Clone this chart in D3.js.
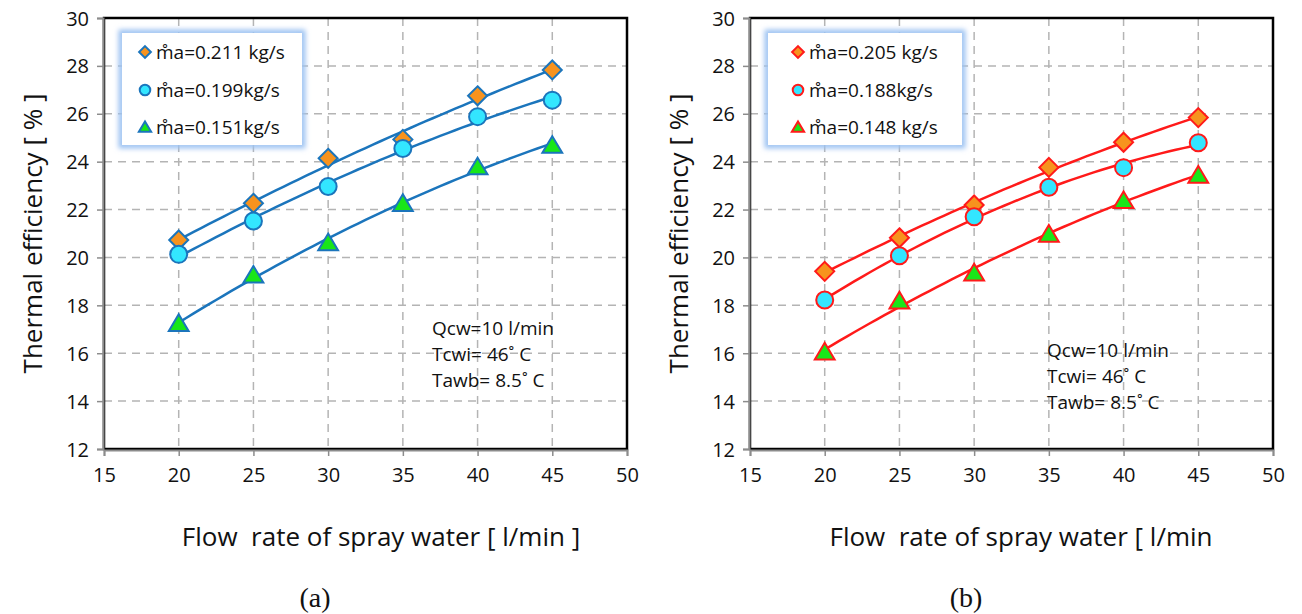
<!DOCTYPE html>
<html>
<head>
<meta charset="utf-8">
<script src="https://cdn.jsdelivr.net/npm/d3@7"></script>
<style>
  body { margin: 0; background: #fff; }
  text { font-family: "Open Sans", Lato, sans-serif; }
</style>
</head>
<body>
<svg id="chart" width="1302" height="614"></svg>
<script>
// flow rate of spray water [l/min]
const flowRates = [20, 25, 30, 35, 40, 45]

// panel (a)
const labelsA = ['m\u030Aa=0.211 kg/s', 'm\u030Aa=0.199kg/s', 'm\u030Aa=0.151kg/s']
const effA1 = [20.73, 22.26, 24.14, 24.93, 26.75, 27.83]
const effA2 = [20.13, 21.52, 22.96, 24.55, 25.88, 26.57]
const effA3 = [17.25, 19.27, 20.62, 22.26, 23.79, 24.69]

// panel (b)
const labelsB = ['m\u030Aa=0.205 kg/s', 'm\u030Aa=0.188kg/s', 'm\u030Aa=0.148 kg/s']
const effB1 = [19.42, 20.82, 22.19, 23.76, 24.81, 25.84]
const effB2 = [18.22, 20.07, 21.70, 22.93, 23.75, 24.79]
const effB3 = [16.06, 18.19, 19.36, 20.98, 22.38, 23.44]

const xTicks = [15, 20, 25, 30, 35, 40, 45, 50]
const yTicks = [12, 14, 16, 18, 20, 22, 24, 26, 28, 30]
const notes = ['Qcw=10 l/min', 'Tcwi= 46˚ C', 'Tawb= 8.5˚ C']

const svg = d3.select('#chart')
svg.append('rect').attr('width', 1302).attr('height', 614).attr('fill', '#fff')

const defs = svg.append('defs')
defs.append('filter').attr('id', 'glow')
  .attr('x', -0.2).attr('y', -0.2).attr('width', 1.4).attr('height', 1.4)
  .append('feGaussianBlur').attr('stdDeviation', 2.5)

// quadratic least squares fit, used for the trend lines
const quadFit = (xs, ys) => {
  let s = [0, 0, 0, 0, 0], t = [0, 0, 0]
  xs.forEach((x, i) => {
    for (let k = 0; k < 5; k++) s[k] += Math.pow(x, k)
    for (let k = 0; k < 3; k++) t[k] += ys[i] * Math.pow(x, k)
  })
  let A = [[s[0], s[1], s[2], t[0]], [s[1], s[2], s[3], t[1]], [s[2], s[3], s[4], t[2]]]
  for (let i = 0; i < 3; i++) {
    for (let j = i + 1; j < 3; j++) {
      let f = A[j][i] / A[i][i]
      for (let k = i; k < 4; k++) A[j][k] -= f * A[i][k]
    }
  }
  let c = [0, 0, 0]
  for (let i = 2; i >= 0; i--) {
    let v = A[i][3]
    for (let k = i + 1; k < 3; k++) v -= A[i][k] * c[k]
    c[i] = v / A[i][i]
  }
  return x => c[0] + c[1] * x + c[2] * x * x
}

const symbolPath = (shape, size) => {
  let h = size / 2
  if (shape === 'diamond') return `M0,${-h}L${h},0L0,${h}L${-h},0Z`
  if (shape === 'circle') return `M${h},0A${h},${h} 0 1,1 ${-h},0A${h},${h} 0 1,1 ${h},0Z`
  return `M0,${-h}L${h * 1.1},${h * 0.85}L${-h * 1.1},${h * 0.85}Z`
}

const drawPanel = (p) => {
  const x = d3.scaleLinear().domain([15, 50]).range([p.left, p.right])
  const y = d3.scaleLinear().domain([12, 30]).range([449, 18])
  const g = svg.append('g')

  // dashed grid
  g.selectAll('.vgrid').data(xTicks.slice(1, -1)).enter().append('line')
    .attr('x1', d => x(d)).attr('x2', d => x(d))
    .attr('y1', y(30)).attr('y2', y(12))
    .attr('stroke', '#b4b4b4').attr('stroke-width', 1.5).attr('stroke-dasharray', '8,6')
  g.selectAll('.hgrid').data(yTicks.slice(1, -1)).enter().append('line')
    .attr('x1', x(15)).attr('x2', x(50))
    .attr('y1', d => y(d)).attr('y2', d => y(d))
    .attr('stroke', '#b4b4b4').attr('stroke-width', 1.5).attr('stroke-dasharray', '8,6')

  // plot area border
  g.append('rect')
    .attr('x', x(15)).attr('y', y(30))
    .attr('width', x(50) - x(15)).attr('height', y(12) - y(30))
    .attr('fill', 'none').attr('stroke', '#000').attr('stroke-width', 2.5)

  // axes
  const yAxis = g.append('g').attr('transform', `translate(${x(15) - 1},0)`)
    .call(d3.axisLeft(y).tickValues(yTicks).tickSize(6).tickPadding(8))
  const xAxis = g.append('g').attr('transform', `translate(0,${y(12) + 1})`)
    .call(d3.axisBottom(x).tickValues(xTicks).tickSize(6).tickPadding(12))
  ;[yAxis, xAxis].forEach(a => {
    a.select('.domain').attr('stroke', '#8c8c8c').attr('stroke-width', 2)
    a.selectAll('.tick line').attr('stroke', '#8c8c8c').attr('stroke-width', 1.5)
    a.selectAll('.tick text').attr('font-size', 20).attr('fill', '#111')
      .style('font-family', '"Open Sans", Lato, sans-serif')
  })
  yAxis.selectAll('.tick text').attr('dy', '0.35em')

  // axis titles
  g.append('text')
    .attr('transform', `translate(${p.left - 71},${(y(30) + y(12)) / 2}) rotate(-90)`)
    .attr('text-anchor', 'middle').attr('dy', '0.35em').attr('font-size', 26).attr('fill', '#111')
    .text('Thermal efficiency [ % ]')
  g.append('text')
    .attr('x', p.xTitleX).attr('y', 537).attr('dy', '0.35em')
    .attr('text-anchor', 'middle').attr('font-size', 26).attr('fill', '#111')
    .attr('xml:space', 'preserve')
    .text(p.xTitle)
  g.append('text')
    .attr('x', p.tagX).attr('y', 607)
    .attr('text-anchor', 'middle').attr('font-size', 28).attr('fill', '#111')
    .style('font-family', '"Liberation Serif", "DejaVu Serif", serif')
    .text(p.tag)

  // trend lines
  const line = d3.line().x(d => x(d[0])).y(d => y(d[1]))
  p.series.forEach(s => {
    let f = quadFit(flowRates, s.values)
    let pts = d3.range(20, 45.01, 0.5).map(v => [v, f(v)])
    g.append('path').attr('d', line(pts))
      .attr('fill', 'none').attr('stroke', p.lineColor).attr('stroke-width', 2.5)
  })

  // markers
  p.series.forEach(s => {
    g.selectAll(null).data(flowRates.map((v, i) => [v, s.values[i]])).enter()
      .append('path')
      .attr('transform', d => `translate(${x(d[0])},${y(d[1])})`)
      .attr('d', symbolPath(s.shape, s.size))
      .attr('fill', s.fill).attr('stroke', p.markerStroke).attr('stroke-width', 2)
  })

  // legend
  const lg = g.append('g')
  lg.append('rect')
    .attr('x', p.legX).attr('y', 33).attr('width', p.legW).attr('height', 112)
    .attr('fill', 'none').attr('stroke', '#9cc2f2').attr('stroke-width', 7)
    .attr('filter', 'url(#glow)')
  lg.append('rect')
    .attr('x', p.legX).attr('y', 33).attr('width', p.legW).attr('height', 112)
    .attr('fill', '#fff')
  const rowY = [52, 90, 127]
  p.series.forEach((s, i) => {
    lg.append('path')
      .attr('transform', `translate(${p.legX + p.legMark},${rowY[i]})`)
      .attr('d', symbolPath(s.shape, s.size * 0.62))
      .attr('fill', s.fill).attr('stroke', p.markerStroke).attr('stroke-width', 2)
    lg.append('text')
      .attr('x', p.legX + p.legMark + 11).attr('y', rowY[i]).attr('dy', '0.35em')
      .attr('font-size', 19).attr('fill', '#111')
      .text(s.label)
  })

  // conditions note
  notes.forEach((t, i) => {
    g.append('text')
      .attr('x', p.noteX).attr('y', p.noteY + i * 26).attr('dy', '0.35em')
      .attr('font-size', 19).attr('fill', '#111')
      .text(t)
  })
}

drawPanel({
  left: 104, right: 627,
  lineColor: '#1b75bc', markerStroke: '#1b75bc',
  xTitle: 'Flow  rate of spray water [ l/min ]', xTitleX: 381,
  tag: '(a)', tagX: 315,
  legX: 122, legW: 180, legMark: 23,
  noteX: 432, noteY: 328,
  series: [
    {label: labelsA[0], values: effA1, shape: 'diamond', size: 19, fill: '#f7931e'},
    {label: labelsA[1], values: effA2, shape: 'circle', size: 17, fill: '#33e6ff'},
    {label: labelsA[2], values: effA3, shape: 'triangle', size: 18, fill: '#19e619'}
  ]
})

drawPanel({
  left: 750, right: 1273,
  lineColor: '#ff1a1a', markerStroke: '#ff1a1a',
  xTitle: 'Flow  rate of spray water [ l/min', xTitleX: 1021,
  tag: '(b)', tagX: 966,
  legX: 768, legW: 194, legMark: 30,
  noteX: 1047, noteY: 350,
  series: [
    {label: labelsB[0], values: effB1, shape: 'diamond', size: 19, fill: '#f7931e'},
    {label: labelsB[1], values: effB2, shape: 'circle', size: 17, fill: '#33e6ff'},
    {label: labelsB[2], values: effB3, shape: 'triangle', size: 18, fill: '#19e619'}
  ]
})
</script>
</body>
</html>
